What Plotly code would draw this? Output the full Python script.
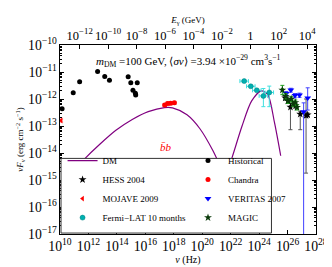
import numpy as np
import plotly.graph_objects as go

# ---------------- data ----------------
dm_nu = [1e10, 5.6e10, 4.6e11, 6.3e12, 8.5e13, 1.2e15, 1.6e16, 2.2e17, 8.1e17, 8.5e18,
         6.9e19, 5.6e20, 1.8e21, 4.1e21, 1.3e22, 6.3e22, 3.0e23, 1.45e24, 4.1e24, 1.2e25, 3.3e25]
dm_F = [5.9e-16, 1.7e-15, 5.6e-15, 2.1e-14, 6.9e-14, 1.74e-13, 3.4e-13, 4.8e-13, 4.7e-13, 2.6e-13,
        7.9e-14, 1.23e-14, 3.3e-15, 1.23e-15, 7.2e-15, 1.0e-13, 8.5e-13, 2.0e-12, 1.45e-12, 1.35e-13, 7.9e-15]

hist_nu = [1.4e10, 8.5e10, 2.4e11, 4.4e12, 1.4e13, 3.0e13, 6.2e14, 9.5e14, 1.35e15, 2.0e15, 2.1e15, 2.7e15]
hist_F = [4.4e-13, 1.7e-12, 4.4e-12, 1.05e-11, 6.8e-12, 4.9e-12, 6.6e-12, 4.0e-12, 2.1e-12, 1.65e-12, 1.4e-12, 4.0e-12]

moj_nu = [1.2e10]
moj_F = [1.6e-13]

chan_nu = [2.3e17, 3.7e17, 5.9e17, 1.1e18]
chan_F = [6.0e-13, 6.8e-13, 6.9e-13, 7.2e-13]

fermi_nu = [8.9e22, 2.6e23, 6.9e23, 2.0e24, 5.2e24]
fermi_F = [4.6e-12, 2.95e-12, 2.1e-12, 1.3e-12, 1.75e-12]
fermi_Fhi = [5.0e-12, 3.2e-12, 2.3e-12, 2.45e-12, 3.0e-12]
fermi_Flo = [4.2e-12, 2.7e-12, 1.9e-12, 5.2e-13, 5.2e-13]

hess_nu = [6.9e25, 1.1e26, 1.6e26, 3.7e26, 7.8e26, 2.0e27, 2.6e27]
hess_F = [1.1e-12, 8.5e-13, 5.0e-13, 5.7e-13, 2.75e-13, 2.45e-13, 2.6e-13]
hess_Fhi = [1.3e-12, 1.0e-12, 6.8e-13, 6.8e-13, 3.5e-13, 1.0e-12, 3.0e-13]
hess_Flo = [9.0e-13, 7.0e-13, 7.3e-14, 4.6e-13, 7.3e-14, 1.8e-15, 2.2e-13]

ver_nu = [8.1e25, 1.7e26, 3.3e26, 6.9e26, 1.35e27, 2.6e27]
ver_F = [1.6e-12, 2.15e-12, 1.35e-12, 1.4e-12, 3.4e-13, 1.1e-12]
ver_Fhi = [1.9e-12, 2.5e-12, 1.6e-12, 1.65e-12, 7.2e-13, 2.6e-12]
ver_Flo = [1.3e-12, 1.8e-12, 1.1e-12, 1.15e-12, 1e-20, 3.9e-13]

mag_nu = [4.3e25, 7.4e25, 1.05e26, 1.8e26, 2.4e26, 3.5e26, 4.6e26]
mag_F = [2.15e-12, 1.26e-12, 8.5e-13, 1.0e-12, 6.6e-13, 7.4e-13, 4.9e-13]
mag_Fhi = [3.2e-12, 1.6e-12, 1.05e-12, 1.25e-12, 8.2e-13, 9.2e-13, 6.2e-13]
mag_Flo = [1.45e-12, 1.0e-12, 6.8e-13, 8.0e-13, 5.2e-13, 5.9e-13, 3.9e-13]

h_GeV = 4.1357e-24  # GeV s, converts nu to E_gamma

FONT = "Liberation Serif"


def yerr(F, hi, lo, color):
    F = np.array(F); hi = np.array(hi); lo = np.array(lo)
    return dict(type="data", symmetric=False, array=hi - F, arrayminus=F - lo,
                color=color, thickness=1, width=2)


def xerr(nu, dec, color):
    nu = np.array(nu)
    return dict(type="data", symmetric=False, array=nu * (10 ** dec - 1),
                arrayminus=nu * (1 - 10 ** -dec), color=color, thickness=1, width=2)


fig = go.Figure()

# left legend column
fig.add_trace(go.Scatter(x=dm_nu, y=dm_F, mode="lines", name="DM", legend="legend",
                         line=dict(color="#800080", width=1.2, shape="spline", smoothing=0.8)))
fig.add_trace(go.Scatter(x=hess_nu, y=hess_F, mode="markers", name="HESS 2004", legend="legend",
                         marker=dict(color="black", size=6, symbol="star"),
                         error_y=yerr(hess_F, hess_Fhi, hess_Flo, "#555555"),
                         error_x=xerr(hess_nu, 0.05, "#555555")))
fig.add_trace(go.Scatter(x=moj_nu, y=moj_F, mode="markers", name="MOJAVE 2009", legend="legend",
                         marker=dict(color="red", size=5, symbol="triangle-left"),
                         error_y=yerr(moj_F, [1.8e-13], [1.4e-13], "#ff8080")))
fig.add_trace(go.Scatter(x=fermi_nu, y=fermi_F, mode="markers", name="Fermi\u2212LAT 10 months",
                         legend="legend",
                         marker=dict(color="#00b0b0", size=5, symbol="circle",
                                     line=dict(color="#008080", width=0.5)),
                         error_y=yerr(fermi_F, fermi_Fhi, fermi_Flo, "#40e0e0"),
                         error_x=xerr(fermi_nu, 0.3, "#40e0e0")))
# right legend column
fig.add_trace(go.Scatter(x=hist_nu, y=hist_F, mode="markers", name="Historical", legend="legend2",
                         marker=dict(color="black", size=5, symbol="circle")))
fig.add_trace(go.Scatter(x=chan_nu, y=chan_F, mode="markers", name="Chandra", legend="legend2",
                         marker=dict(color="red", size=5, symbol="circle"),
                         error_x=xerr(chan_nu, 0.1, "red")))
fig.add_trace(go.Scatter(x=ver_nu, y=ver_F, mode="markers", name="VERITAS 2007", legend="legend2",
                         marker=dict(color="blue", size=6, symbol="triangle-down"),
                         error_y=yerr(ver_F, ver_Fhi, ver_Flo, "#4040ff")))
fig.add_trace(go.Scatter(x=mag_nu, y=mag_F, mode="markers", name="MAGIC", legend="legend2",
                         marker=dict(color="#0a3a0a", size=6, symbol="star"),
                         error_y=yerr(mag_F, mag_Fhi, mag_Flo, "#20a020"),
                         error_x=xerr(mag_nu, 0.06, "#20a020")))

# invisible trace to carry the top energy axis
fig.add_trace(go.Scatter(x=[1e10 * h_GeV, 1e28 * h_GeV], y=[1e-20, 1e-20], xaxis="x2",
                         mode="lines", line=dict(width=0), showlegend=False, hoverinfo="skip"))

axcommon = dict(type="log", showgrid=False, zeroline=False, showline=True, linecolor="black",
                linewidth=1, ticks="inside", ticklen=4, tickcolor="black",
                exponentformat="power")

legcommon = dict(yanchor="bottom", y=0.01, xanchor="left", orientation="v",
                 bgcolor="rgba(0,0,0,0)", borderwidth=0, tracegroupgap=0,
                 itemwidth=30, font=dict(family=FONT, size=9, color="black"))

fig.update_layout(
    width=332, height=267,
    margin=dict(l=49, r=19, t=30, b=34),
    paper_bgcolor="white", plot_bgcolor="white",
    font=dict(family=FONT, color="black"),
    xaxis=dict(**axcommon, range=[10, 28], dtick=2, mirror=False, tickangle=0,
               tickfont=dict(family=FONT, size=11, color="black"),
               title=dict(text="<i>\u03bd</i> (Hz)", font=dict(family=FONT, size=10), standoff=2)),
    xaxis2=dict(**axcommon, overlaying="x", side="top", anchor="y", tickangle=0,
                range=[np.log10(1e10 * h_GeV), np.log10(1e28 * h_GeV)], dtick=2,
                tickfont=dict(family=FONT, size=10, color="black"),
                title=dict(text="<i>E</i><sub>\u03b3</sub> (GeV)", font=dict(family=FONT, size=9), standoff=0)),
    yaxis=dict(**axcommon, range=[-17, -10], dtick=1, mirror="ticks",
               tickfont=dict(family=FONT, size=11, color="black"),
               minor=dict(ticks="inside", ticklen=2, tickcolor="black"),
               title=dict(text="<i>\u03bdF</i><sub>\u03bd</sub> (erg cm<sup>\u22122</sup> s<sup>\u22121</sup>)",
                          font=dict(family=FONT, size=9), standoff=2)),
    legend=dict(**legcommon, x=0.01),
    legend2=dict(**legcommon, x=0.50),
    shapes=[dict(type="rect", xref="paper", yref="paper", x0=0.004, x1=0.826, y0=0.005, y1=0.40,
                 line=dict(color="#333333", width=1), fillcolor="white", layer="above")],
    annotations=[
        dict(x=0.5, y=0.97, xref="paper", yref="paper", xanchor="center", yanchor="top",
             showarrow=False, font=dict(family=FONT, size=11),
             text="<i>m</i><sub>DM</sub> =100 GeV, \u27e8<i>\u03c3v</i>\u27e9 =3.94 \u00d710<sup>\u221229</sup> cm<sup>3</sup>s<sup>\u22121</sup>"),
        dict(x=17.43, y=-13.79, xref="x", yref="y", showarrow=False,
             font=dict(family=FONT, size=11, color="red"), text="<i>b\u0304b</i>"),
    ],
)

fig.write_html("out.html")
